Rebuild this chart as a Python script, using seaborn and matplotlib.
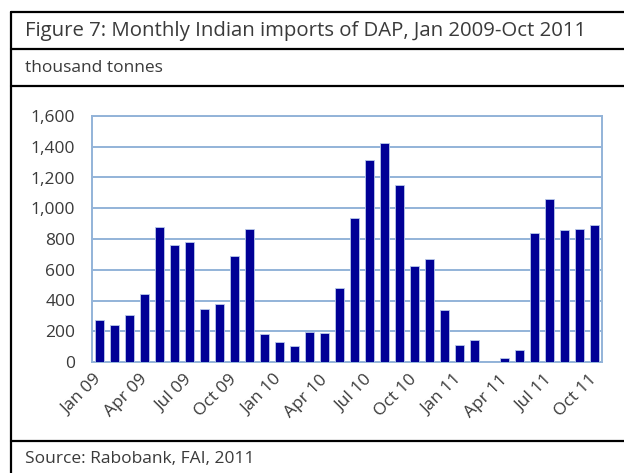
import matplotlib
matplotlib.use("Agg")
import matplotlib.pyplot as plt
from matplotlib.lines import Line2D
import seaborn as sns
import pandas as pd

# Monthly Indian DAP imports, thousand tonnes
months = ["Jan 09", "Feb 09", "Mar 09", "Apr 09", "May 09", "Jun 09", "Jul 09", "Aug 09", "Sep 09",
          "Oct 09", "Nov 09", "Dec 09", "Jan 10", "Feb 10", "Mar 10", "Apr 10", "May 10", "Jun 10",
          "Jul 10", "Aug 10", "Sep 10", "Oct 10", "Nov 10", "Dec 10", "Jan 11", "Feb 11", "Mar 11",
          "Apr 11", "May 11", "Jun 11", "Jul 11", "Aug 11", "Sep 11", "Oct 11"]
imports = [275, 241, 304, 444, 878, 763, 783, 345, 379, 689, 867, 184, 128, 102, 195, 189, 483,
           939, 1316, 1426, 1149, 622, 672, 340, 108, 145, 0, 28, 80, 839, 1062, 861, 863, 893]
y_ticks = [0, 200, 400, 600, 800, 1000, 1200, 1400, 1600]

df = pd.DataFrame({"month": months, "imports": imports})

sns.set_style("white")
plt.rcParams["font.family"] = ["Open Sans", "DejaVu Sans"]
text_col = "#3A3A3A"
blue_grey = "#93B3D8"

fig = plt.figure(figsize=(6.24, 4.73), dpi=100)
W, H = 624, 473
ax = fig.add_axes([92 / W, (H - 362) / H, 510 / W, 246 / H])

sns.barplot(data=df, x="month", y="imports", color="#000096", width=0.62,
            edgecolor="#B8C8E8", linewidth=0.6, saturation=1, ax=ax, zorder=3)

ax.set_xlim(-0.5, len(months) - 0.5)
ax.set_ylim(0, 1600)
ax.set_yticks(y_ticks)
ax.set_yticklabels([f"{v:,}" for v in y_ticks], fontsize=12.5, color=text_col)
ax.grid(axis="y", color=blue_grey, linewidth=1.4, zorder=0)
ax.set_axisbelow(True)
ax.tick_params(axis="y", length=0, pad=12)

# tick marks between quarters, labels on the quarter's first month
ax.set_xticks([i - 0.5 for i in range(0, len(months), 3)])
ax.set_xticklabels([])
ax.tick_params(axis="x", which="major", length=5, width=1.4, color=blue_grey, direction="out")
ax.set_xticks(range(0, len(months), 3), minor=True)
ax.set_xticklabels(months[::3], minor=True, rotation=45, ha="right", va="center",
                   rotation_mode="anchor", fontsize=12.5, color=text_col)
ax.tick_params(axis="x", which="minor", length=0, pad=11)
ax.set_xlabel("")
ax.set_ylabel("")
for s in ax.spines.values():
    s.set_color(blue_grey)
    s.set_linewidth(1.4)

# surrounding table frame
def hline(y):
    fig.add_artist(Line2D([11 / W, 1], [1 - y / H, 1 - y / H], color="black", lw=1.6))

for y in [12, 49, 86, 441]:
    hline(y)
fig.add_artist(Line2D([11 / W, 11 / W], [0, 1 - 12 / H], color="black", lw=1.6))

fig.text(25 / W, 1 - 31 / H, "Figure 7: Monthly Indian imports of DAP, Jan 2009-Oct 2011",
         fontsize=14.7, color=text_col, va="center", ha="left")
fig.text(25 / W, 1 - 68 / H, "thousand tonnes", fontsize=12.5, color=text_col, va="center", ha="left")
fig.text(25 / W, 1 - 459 / H, "Source: Rabobank, FAI, 2011", fontsize=12.5, color=text_col,
         va="center", ha="left")

fig.savefig("out.png", dpi=100)
plt.close(fig)
